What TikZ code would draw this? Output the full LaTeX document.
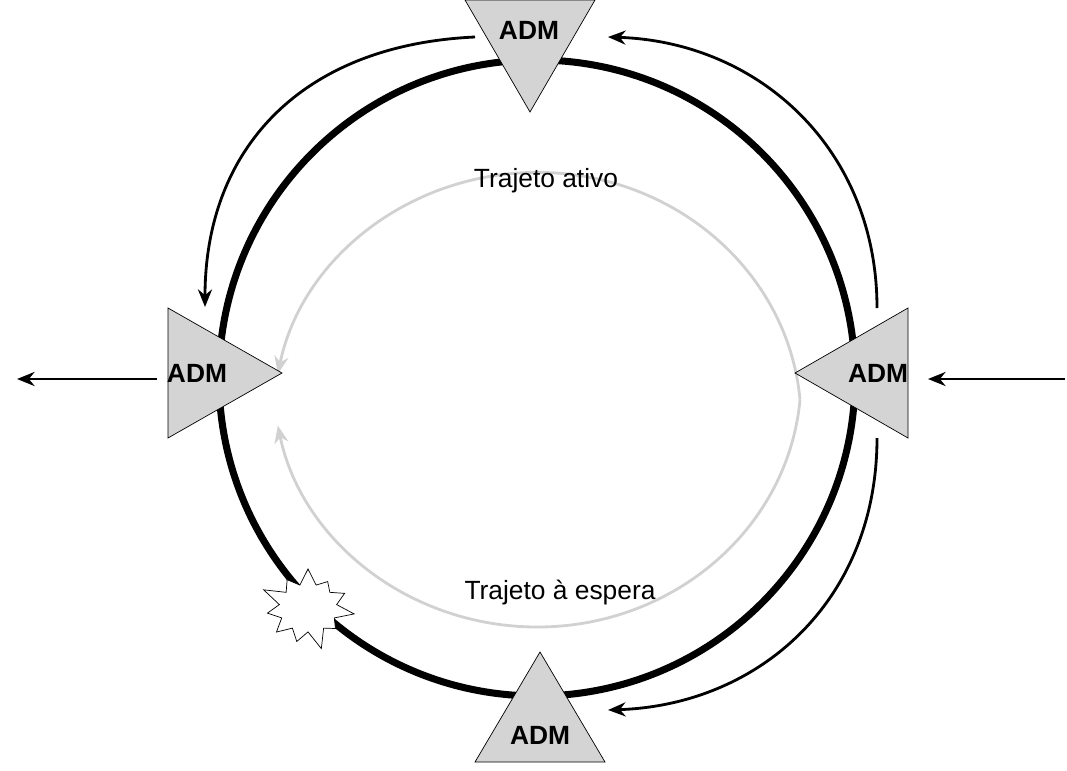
\documentclass[tikz,border=0pt]{standalone}
\usepackage{fontspec}
\setmainfont{Liberation Sans}
\usetikzlibrary{arrows.meta,shapes.symbols,positioning}
\tikzset{
    ring/.style={
        draw=black,
        line width=4pt
    },
    path_arc/.style={
        draw=black!18,
        line width=1.6pt,
        -{Stealth[length=10pt,width=8pt]}
    },
    adm/.style={
        draw=black,
        fill=black!17,
        thin
    },
    adm_label/.style={
        font=\fontsize{15}{15}\selectfont\bfseries
    },
    flow/.style={
        draw,
        line width=1.6pt,
        -{Stealth[length=10pt,width=8pt]}
    },
    label_text/.style={
        font=\fontsize{15}{15}\selectfont
    },
}
\begin{document}
\begin{tikzpicture}[x=0.02cm, y=-0.02cm]
    \useasboundingbox (0,0) rectangle (1067,770);

    % ring and the two paths
    \draw[ring] (537,378) circle (318);
    \draw[path_arc] (537,378) ++(5:264 and 249) arc[start angle=5, end angle=169, x radius=264, y radius=-249];
    \draw[path_arc] (537,378) ++(-5:264 and -249) arc[start angle=-5, end angle=-169, x radius=264, y radius=-249];

    % ADM triangles
    \draw[adm] (465,0) -- (595,0) -- (530,112) -- cycle;
    \draw[adm] (540,652) -- (605,762) -- (475,762) -- cycle;
    \draw[adm] (168,308) -- (282,373) -- (168,438) -- cycle;
    \draw[adm] (908,308) -- (908,438) -- (795,373) -- cycle;
    \node[adm_label] (admT) at (529,30) {ADM};
    \node[adm_label] (admB) at (540,735) {ADM};
    \node[adm_label] (admL) at (197,373) {ADM};
    \node[adm_label] (admR) at (878,373) {ADM};

    \node[label_text] (active) at (546,181) {Trajeto ativo};
    \node[label_text] (standby) at (560,593) {Trajeto à espera};

    % fault
    \node[starburst, draw, fill=white, thin, starburst points=11,
          starburst point height=12pt, minimum width=2.0cm, minimum height=1.8cm] (fault) at (308,608) {};

    % connector ends
    \coordinate (tl_s) at (475,37);
    \coordinate (tl_e) at (205,307);
    \coordinate (tr_s) at (877,308);
    \coordinate (tr_e) at (608,37);
    \coordinate (br_s) at (877,438);
    \coordinate (br_e) at (608,710);
    \coordinate (outL_s) at (157,379);
    \coordinate (outL_e) at (17,379);
    \coordinate (inR_s) at (1065,379);
    \coordinate (inR_e) at (928,379);

    \draw[flow] (tl_s) .. controls (300,45) and (205,150) .. (tl_e);
    \draw[flow] (tr_s) .. controls (877,150) and (760,42) .. (tr_e);
    \draw[flow] (br_s) .. controls (877,600) and (760,705) .. (br_e);
    \draw[flow] (outL_s) -- (outL_e);
    \draw[flow] (inR_s) -- (inR_e);
\end{tikzpicture}
\end{document}
